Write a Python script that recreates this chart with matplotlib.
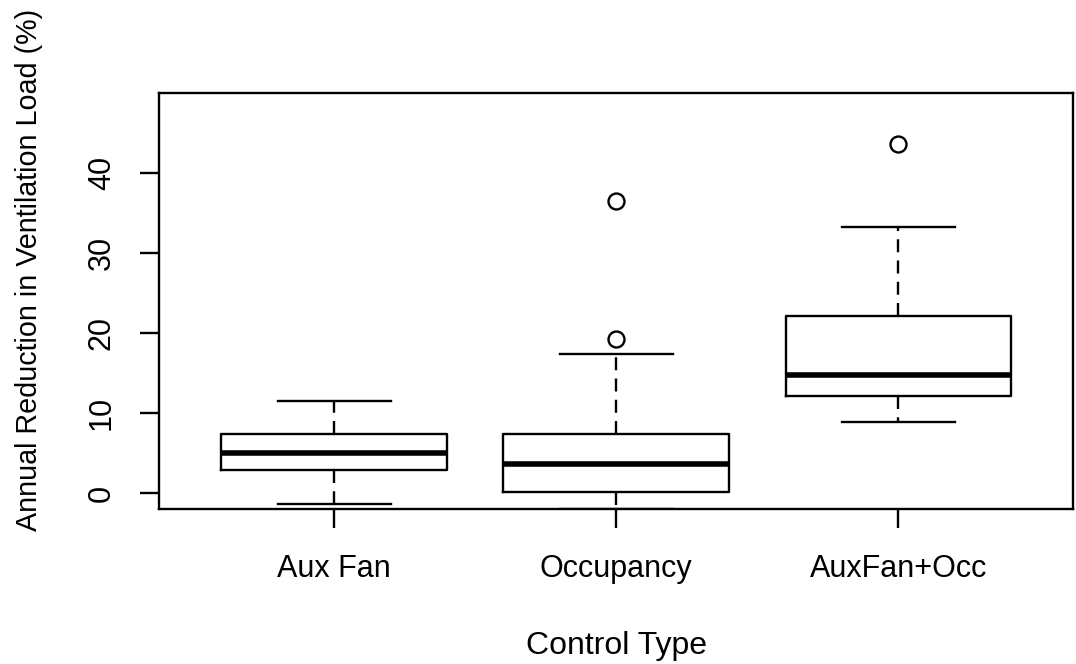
import matplotlib
matplotlib.use('Agg')
from matplotlib import pyplot as plt

plt.rcParams['font.family'] = ['Liberation Sans', 'DejaVu Sans']

# Box summary per control type (annual reduction in ventilation load, %)
categories = ['Aux Fan', 'Occupancy', 'AuxFan+Occ']
whisker_low = [-1.35, -1.95, 8.95]
q1 = [2.9, 0.1, 12.1]
medians = [5.0, 3.6, 14.8]
q3 = [7.35, 7.35, 22.1]
whisker_high = [11.55, 17.4, 33.2]
outliers = [[], [19.3, 36.5], [43.6]]

stats = []
for i, name in enumerate(categories):
    stats.append({
        'label': name,
        'whislo': whisker_low[i],
        'q1': q1[i],
        'med': medians[i],
        'q3': q3[i],
        'whishi': whisker_high[i],
        'fliers': outliers[i],
    })

fig = plt.figure(figsize=(10.76, 6.64), dpi=100)
ax = fig.add_axes([0.148, 0.234, 0.8495, 0.6255])

ax.bxp(stats, positions=[1, 2, 3], widths=0.8, capwidths=0.4,
       boxprops=dict(color='black', linewidth=1.7),
       medianprops=dict(color='black', linewidth=4.0, solid_capstyle='butt'),
       whiskerprops=dict(color='black', linewidth=1.7, linestyle=(0, (5.5, 3.5))),
       capprops=dict(color='black', linewidth=1.7),
       flierprops=dict(marker='o', markersize=11.5, markerfacecolor='none',
                       markeredgecolor='black', markeredgewidth=1.7))

ax.set_xlim(0.38, 3.62)
ax.set_ylim(-1.92, 49.92)
ax.set_yticks([0, 10, 20, 30, 40])
ax.set_yticklabels(['0', '10', '20', '30', '40'], rotation=90, va='center')
ax.set_xticks([1, 2, 3])
ax.set_xticklabels(categories)

for spine in ax.spines.values():
    spine.set_linewidth(1.7)
ax.tick_params(axis='both', length=13.5, width=1.7, labelsize=22)
ax.tick_params(axis='x', pad=19)
ax.tick_params(axis='y', pad=17)

ax.set_xlabel('Control Type', fontsize=23, labelpad=34)
fig.text(0.027, 1 - 270 / 664, 'Annual Reduction in Ventilation Load (%)',
         rotation=90, ha='center', va='center', fontsize=20.7)

fig.savefig('out.png', dpi=100, facecolor='white')
